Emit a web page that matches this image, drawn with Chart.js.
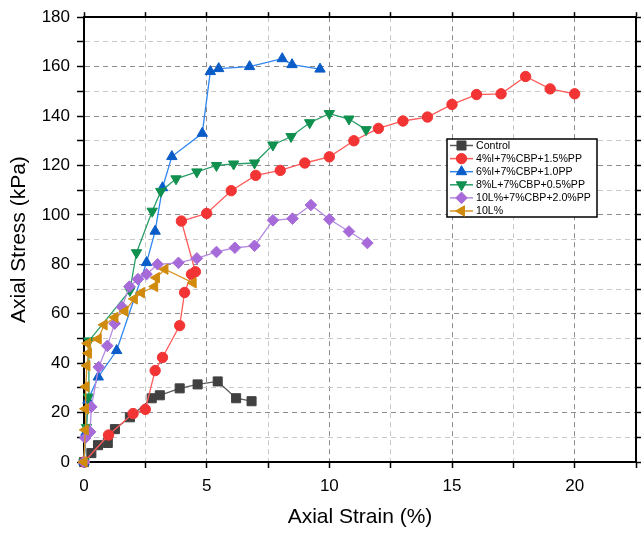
<!DOCTYPE html>
<html>
<head>
<meta charset="utf-8">
<script src="https://cdn.jsdelivr.net/npm/chart.js@4.4.0/dist/chart.umd.min.js"></script>
<style>
html,body{margin:0;padding:0;background:#fff}
#wrap{width:644px;height:536px}
</style>
</head>
<body>
<div id="wrap"><canvas id="c" width="644" height="536"></canvas></div>
<script>
// series names (legend order)
const seriesNames = ['Control', '4%I+7%CBP+1.5%PP', '6%I+7%CBP+1.0PP', '8%L+7%CBP+0.5%PP', '10L%+7%CBP+2.0%PP', '10L%'];

// axial strain (%) / axial stress (kPa)
const controlStrain = [0, 0.3, 0.57, 0.97, 1.26, 1.87, 2.76, 3.09, 3.9, 4.63, 5.45, 6.2, 6.83];
const controlStress = [0, 3.6, 6.8, 7.7, 13.3, 18.1, 25.8, 27, 29.8, 31.4, 32.6, 25.8, 24.6];

const i4Strain = [0, 1.0, 2.0, 2.5, 2.9, 3.2, 3.9, 4.1, 4.38, 4.54, 3.97, 5.0, 6.0, 7.0, 8.0, 9.0, 10.0, 11.0, 12.0, 13.0, 14.0, 15.0, 16.0, 17.0, 18.0, 19.0, 20.0];
const i4Stress = [0, 10.9, 19.6, 21.3, 37, 42.3, 55.2, 68.6, 76, 77, 97.5, 100.6, 109.8, 116, 118, 121, 123.5, 130, 135, 138, 139.6, 144.7, 148.7, 149, 156, 151, 149];

const i6Strain = [0, 0.08, 0.16, 0.58, 1.33, 2.55, 2.9, 3.2, 3.58, 4.82, 5.15, 5.49, 6.75, 8.08, 8.48, 9.62];
const i6Stress = [0, 12, 25, 34.4, 45.1, 80.7, 93.4, 111, 123.6, 133, 158, 159.2, 160, 163.2, 160.8, 159];

const l8Strain = [0, 0.1, 0.18, 0.2, 1.87, 2.14, 2.78, 3.13, 3.75, 4.6, 5.4, 6.1, 6.95, 7.7, 8.44, 9.2, 10.0, 10.8, 11.5];
const l8Stress = [0, 14, 26.3, 49, 69.4, 84.7, 101.5, 109.5, 114.6, 117.4, 120, 120.6, 121, 128.3, 131.7, 137.3, 141, 138.8, 134.5];

const l10ppStrain = [0, 0.05, 0.25, 0.3, 0.6, 0.95, 1.25, 1.55, 1.85, 2.2, 2.55, 3.0, 3.85, 4.6, 5.4, 6.15, 6.95, 7.7, 8.5, 9.25, 10.0, 10.8, 11.55];
const l10ppStress = [0, 9.7, 12.2, 22.3, 38.4, 47, 56, 62.7, 71, 74, 76, 80, 80.6, 82.4, 85, 86.7, 87.5, 97.8, 98.5, 104, 98.2, 93.3, 88.6];

const l10Strain = [0, 0.05, 0.06, 0.08, 0.12, 0.18, 0.15, 0.58, 0.82, 1.26, 1.67, 2.05, 2.34, 2.88, 2.95, 3.3, 4.45];
const l10Stress = [0, 13, 21.5, 30.5, 39, 44, 48, 49.8, 55.5, 58.5, 61, 66, 68.5, 71, 74.6, 78, 72.5];

// tick labels
const xLabels = [0, 5, 10, 15, 20];
const yLabels = [0, 20, 40, 60, 80, 100, 120, 140, 160, 180];

const FONT = 'Arial, "Liberation Sans", sans-serif';

function pts(xs, ys){ return xs.map((x,i)=>({x:x, y:ys[i]})) }

function series(name, xs, ys, line, mark, style, rot, r, ord){
  return {
    label: name, data: pts(xs, ys),
    borderColor: line, borderWidth: 1.3,
    pointBackgroundColor: mark, pointBorderColor: mark, pointBorderWidth: 1,
    pointStyle: style, pointRotation: rot, pointRadius: r, pointHoverRadius: r,
    tension: 0, clip: false, order: ord
  };
}

const datasets = [
  series(seriesNames[0], controlStrain, controlStress, '#5a5a5a', '#404040', 'rect', 0, 6.4, 5),
  series(seriesNames[1], i4Strain, i4Stress, '#ff5a5a', '#f23434', 'circle', 0, 5.2, 4),
  series(seriesNames[2], i6Strain, i6Stress, '#2f86f0', '#0a5cc8', 'triangle', 0, 6, 3),
  series(seriesNames[3], l8Strain, l8Stress, '#2a9e68', '#10904f', 'triangle', 180, 6, 2),
  series(seriesNames[4], l10ppStrain, l10ppStress, '#b58ae0', '#a66bd8', 'rectRot', 0, 5.8, 1),
  series(seriesNames[5], l10Strain, l10Stress, '#d89420', '#d08a0c', 'triangle', 270, 6, 0)
];

// legend box drawn inside the plot
const boxLegend = {
  id: 'boxLegend',
  afterDraw(chart){
    const ctx = chart.ctx;
    const x0 = 447, y0 = 139, w = 150, h = 78;
    ctx.save();
    ctx.fillStyle = '#fff';
    ctx.fillRect(x0, y0, w, h);
    ctx.strokeStyle = '#000'; ctx.lineWidth = 1.5;
    ctx.strokeRect(x0, y0, w, h);
    chart.data.datasets.forEach((ds, i) => {
      const y = y0 + 6.5 + i * 13.1;
      ctx.strokeStyle = ds.borderColor; ctx.lineWidth = 1.5;
      ctx.beginPath(); ctx.moveTo(x0 + 3, y); ctx.lineTo(x0 + 26, y); ctx.stroke();
      ctx.fillStyle = ds.pointBackgroundColor; ctx.strokeStyle = ds.pointBorderColor; ctx.lineWidth = 1;
      Chart.helpers.drawPoint(ctx, {pointStyle: ds.pointStyle, rotation: ds.pointRotation, radius: ds.pointRadius, borderWidth: 1}, x0 + 14.5, y);
      ctx.fillStyle = '#000';
      ctx.font = '10.6px ' + FONT;
      ctx.textBaseline = 'middle'; ctx.textAlign = 'left';
      ctx.fillText(ds.label, x0 + 29, y + 0.5);
    });
    ctx.restore();
  }
};

const gridCol = (major) => (c) => (c.tick && major.includes(c.tick.value)) ? '#8c8c8c' : '#c8c8c8';

new Chart(document.getElementById('c').getContext('2d'), {
  type: 'line',
  data: {datasets},
  plugins: [boxLegend],
  options: {
    responsive: false, animation: false,
    layout: {padding: {left: 0, top: 15, right: 6, bottom: 0}},
    plugins: {legend: {display: false}, tooltip: {enabled: false}},
    scales: {
      x: {
        type: 'linear', position: 'bottom', min: 0, max: 22.5,
        ticks: {stepSize: 2.5, autoSkip: false, maxRotation: 0, padding: 8, color: '#000', font: {family: FONT, size: 17},
          callback: v => xLabels.includes(v) ? String(v) : ''},
        grid: {color: gridCol(xLabels), lineWidth: 1, tickColor: '#000', tickLength: 6, tickWidth: 1.5},
        border: {color: '#000', width: 2, dash: [5, 4]},
        title: {display: true, text: 'Axial Strain (%)', color: '#000', font: {family: FONT, size: 21}, padding: {top: 0, bottom: 6}},
        afterFit: s => { s.height = 74 }
      },
      x2: {
        type: 'linear', position: 'top', min: 0, max: 22.5,
        ticks: {display: false, stepSize: 2.5},
        grid: {drawOnChartArea: false, tickColor: '#000', tickLength: 5, tickWidth: 1.5},
        border: {color: '#000', width: 2},
        afterFit: s => { s.height = 0 }
      },
      y: {
        type: 'linear', position: 'left', min: 0, max: 180,
        ticks: {stepSize: 10, autoSkip: false, padding: 7, color: '#000', font: {family: FONT, size: 17},
          callback: v => yLabels.includes(v) ? String(v) : ''},
        grid: {color: gridCol(yLabels), lineWidth: 1, tickColor: '#000', tickLength: 7, tickWidth: 1.5},
        border: {color: '#000', width: 2, dash: [5, 4]},
        title: {display: true, text: 'Axial Stress (kPa)', color: '#000', font: {family: FONT, size: 21}, padding: {top: 7, bottom: 0}},
        afterFit: s => { s.width = 84 }
      },
      y2: {
        type: 'linear', position: 'right', min: 0, max: 180,
        ticks: {display: false, stepSize: 10},
        grid: {drawOnChartArea: false, tickColor: '#000', tickLength: 5, tickWidth: 1.5},
        border: {color: '#000', width: 2},
        afterFit: s => { s.width = 0 }
      }
    }
  }
});
</script>
</body>
</html>
